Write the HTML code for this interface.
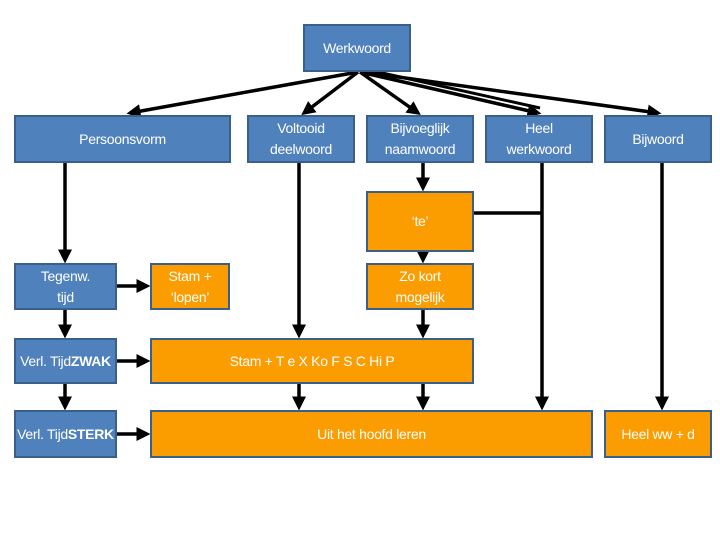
<!DOCTYPE html>
<html><head><style>
body{margin:0;width:720px;height:540px;background:#fff;position:relative;overflow:hidden;font-family:"Liberation Sans",sans-serif;}
.b{position:absolute;box-sizing:border-box;border:2px solid #3a5f8b;color:#fff;display:flex;align-items:center;justify-content:center;text-align:center;font-size:14px;line-height:21px;letter-spacing:-0.3px}
.bl{background:#4f81bd}.o{background:#fb9c00}
svg{position:absolute;left:0;top:0}
</style></head><body>
<svg width="720" height="540">
<defs><marker id="a" markerWidth="4" markerHeight="4" refX="3" refY="2" orient="auto" markerUnits="strokeWidth"><path d="M0,0L4,2L0,4z" fill="#000"/></marker></defs>
<g stroke="#000" stroke-width="3.5" fill="none" marker-end="url(#a)">
<line x1="358" y1="72" x2="130" y2="113"/>
<line x1="358" y1="72" x2="304" y2="113"/>
<line x1="360" y1="72" x2="418" y2="113"/>
<line x1="360" y1="72" x2="538" y2="113"/>
<line x1="362" y1="72" x2="658" y2="113"/>
<line x1="65" y1="163" x2="65" y2="260"/>
<line x1="299" y1="163" x2="299" y2="335"/>
<line x1="423" y1="163" x2="423" y2="188"/>
<line x1="542" y1="163" x2="542" y2="407"/>
<line x1="662" y1="163" x2="662" y2="407"/>
<line x1="423" y1="251" x2="423" y2="260"/>
<line x1="423" y1="310" x2="423" y2="335"/>
<line x1="299" y1="384" x2="299" y2="407"/>
<line x1="423" y1="384" x2="423" y2="407"/>
<line x1="65" y1="310" x2="65" y2="335"/>
<line x1="65" y1="384" x2="65" y2="407"/>
<line x1="117" y1="286" x2="147" y2="286"/>
<line x1="117" y1="361" x2="147" y2="361"/>
<line x1="117" y1="434" x2="147" y2="434"/>
</g>
<line x1="474" y1="213" x2="542" y2="213" stroke="#000" stroke-width="3.5"/>
<line x1="360" y1="72" x2="540" y2="112" stroke="#000" stroke-width="3" transform="translate(0,-4)"/>
</svg>
<div class="b bl" style="left:303px;top:24px;width:108px;height:48px">Werkwoord</div>
<div class="b bl" style="left:14px;top:115px;width:217px;height:48px">Persoonsvorm</div>
<div class="b bl" style="left:247px;top:115px;width:108px;height:48px">Voltooid<br>deelwoord</div>
<div class="b bl" style="left:366px;top:115px;width:108px;height:48px">Bijvoeglijk<br>naamwoord</div>
<div class="b bl" style="left:485px;top:115px;width:108px;height:48px">Heel<br>werkwoord</div>
<div class="b bl" style="left:604px;top:115px;width:108px;height:48px">Bijwoord</div>
<div class="b o" style="left:366px;top:191px;width:108px;height:61px">‘te’</div>
<div class="b bl" style="left:14px;top:263px;width:103px;height:47px">Tegenw.<br>tijd</div>
<div class="b o" style="left:150px;top:263px;width:80px;height:47px">Stam +<br>‘lopen’</div>
<div class="b o" style="left:366px;top:263px;width:108px;height:47px">Zo kort<br>mogelijk</div>
<div class="b bl" style="left:14px;top:338px;width:103px;height:46px">Verl. Tijd<br><b>ZWAK</b></div>
<div class="b o" style="left:150px;top:338px;width:324px;height:46px">Stam + T e X Ko F S C Hi P</div>
<div class="b bl" style="left:14px;top:410px;width:103px;height:48px">Verl. Tijd<br><b>STERK</b></div>
<div class="b o" style="left:150px;top:410px;width:443px;height:48px">Uit het hoofd leren</div>
<div class="b o" style="left:604px;top:410px;width:108px;height:48px">Heel ww + d</div>
</body></html>
